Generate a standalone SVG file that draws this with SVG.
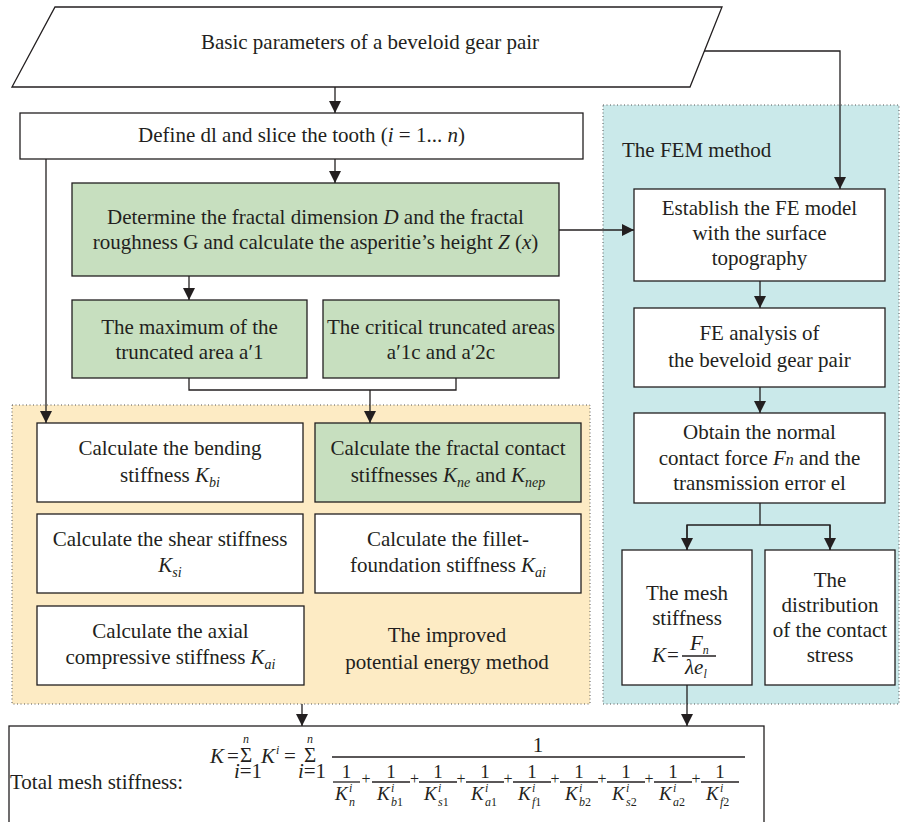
<svg xmlns="http://www.w3.org/2000/svg" width="901" height="822" viewBox="0 0 901 822">
<defs>
<marker id="ah" viewBox="0 0 12 12" refX="12" refY="6" markerWidth="12" markerHeight="12" markerUnits="userSpaceOnUse" orient="auto">
<path d="M0,0 L12,6 L0,12 z" fill="#231f20"/>
</marker>
</defs>
<style>
text{font-family:"Liberation Serif","Times New Roman",serif;font-size:21px;fill:#231f20}
.c{text-anchor:middle}
.i{font-style:italic}
.sub{font-style:italic;font-size:14px}
.box{fill:#fff;stroke:#231f20;stroke-width:1.3}
.g{fill:#c7dfbf;stroke:#231f20;stroke-width:1.3}
.ln{fill:none;stroke:#231f20;stroke-width:1.3}
.ar{fill:none;stroke:#231f20;stroke-width:1.3;marker-end:url(#ah)}
.reg{stroke:#555;stroke-width:1;stroke-dasharray:1 2.5}
.f{font-size:19px}
.s{font-size:12px;font-style:italic}
.pl{font-size:16px;text-anchor:middle}
</style>

<g id="regions">
<rect id="pem-region" x="12" y="405" width="578" height="299" fill="#fdebc4" class="reg"/>
<rect id="fem-region" x="603" y="105" width="296" height="599" fill="#cae9ea" class="reg"/>
</g>

<g id="n-basic">
<polygon points="55,7 722,7 690,87 12,87" class="box"/>
<text x="370" y="49" class="c">Basic parameters of a beveloid gear pair</text>
</g>

<g id="n-define">
<rect x="20" y="113" width="563" height="46" class="box"/>
<text x="301.5" y="142" class="c">Define dl and slice the tooth (<tspan class="i">i</tspan> = 1... <tspan class="i">n</tspan>)</text>
</g>

<g id="n-fractal">
<rect x="72" y="183" width="487" height="93" class="g"/>
<text x="315.5" y="224" class="c">Determine the fractal dimension <tspan class="i">D</tspan> and the fractal</text>
<text x="315.5" y="249" class="c">roughness G and calculate the asperitie’s height <tspan class="i">Z</tspan> (<tspan class="i">x</tspan>)</text>
</g>

<g id="n-max">
<rect x="72" y="300" width="235" height="78" class="g"/>
<text x="189.5" y="334" class="c">The maximum of the</text>
<text x="189.5" y="359" class="c">truncated area a′1</text>
</g>

<g id="n-critical">
<rect x="323" y="300" width="236" height="78" class="g"/>
<text x="441" y="334" class="c">The critical truncated areas</text>
<text x="441" y="359" class="c">a′1c and a′2c</text>
</g>

<g id="n-bending">
<rect x="37" y="423" width="266" height="79" class="box"/>
<text x="170" y="455" class="c">Calculate the bending</text>
<text x="170" y="482" class="c">stiffness <tspan class="i">K</tspan><tspan class="sub" dy="5">bi</tspan></text>
</g>

<g id="n-contact">
<rect x="315" y="423" width="266" height="79" class="g"/>
<text x="448" y="455" class="c">Calculate the fractal contact</text>
<text x="448" y="482" class="c">stiffnesses <tspan class="i">K</tspan><tspan class="sub" dy="5">ne</tspan><tspan dy="-5"> and </tspan><tspan class="i">K</tspan><tspan class="sub" dy="5">nep</tspan></text>
</g>

<g id="n-shear">
<rect x="37" y="514" width="266" height="79" class="box"/>
<text x="170" y="546" class="c">Calculate the shear stiffness</text>
<text x="170" y="572" class="c"><tspan class="i">K</tspan><tspan class="sub" dy="5">si</tspan></text>
</g>

<g id="n-fillet">
<rect x="315" y="514" width="266" height="79" class="box"/>
<text x="448" y="546" class="c">Calculate the fillet-</text>
<text x="448" y="572" class="c">foundation stiffness <tspan class="i">K</tspan><tspan class="sub" dy="5">ai</tspan></text>
</g>

<g id="n-axial">
<rect x="37" y="606" width="267" height="79" class="box"/>
<text x="170.5" y="638" class="c">Calculate the axial</text>
<text x="170.5" y="664" class="c">compressive stiffness <tspan class="i">K</tspan><tspan class="sub" dy="5">ai</tspan></text>
</g>

<g id="n-improved-label">
<text x="447" y="642" class="c">The improved</text>
<text x="447" y="669" class="c">potential energy method</text>
</g>

<g id="n-fem-label">
<text x="622" y="157">The FEM method</text>
</g>

<g id="n-establish">
<rect x="634" y="189" width="251" height="92" class="box"/>
<text x="759.5" y="215" class="c">Establish the FE model</text>
<text x="759.5" y="240" class="c">with the surface</text>
<text x="759.5" y="265" class="c">topography</text>
</g>

<g id="n-analysis">
<rect x="634" y="308" width="251" height="79" class="box"/>
<text x="759.5" y="340" class="c">FE analysis of</text>
<text x="759.5" y="367" class="c">the beveloid gear pair</text>
</g>

<g id="n-obtain">
<rect x="634" y="413" width="251" height="90" class="box"/>
<text x="759.5" y="439" class="c">Obtain the normal</text>
<text x="759.5" y="465" class="c">contact force <tspan class="i">F</tspan><tspan class="i" font-size="16">n</tspan> and the</text>
<text x="759.5" y="490" class="c">transmission error el</text>
</g>

<g id="n-mesh">
<rect x="622" y="550" width="130" height="135" class="box"/>
<text x="687" y="600" class="c">The mesh</text>
<text x="687" y="625" class="c">stiffness</text>
<text x="652" y="662" class="i" font-size="20">K</text>
<text x="667" y="662" font-size="20">=</text>
<text x="690" y="650" class="i" font-size="20">F<tspan class="s" font-size="13" dy="4">n</tspan></text>
<line x1="682" y1="656" x2="716" y2="656" class="ln"/>
<text x="685" y="674" class="i" font-size="20">λe<tspan class="s" font-size="13" dy="4">l</tspan></text>
</g>

<g id="n-distribution">
<rect x="765" y="550" width="130" height="135" class="box"/>
<text x="830" y="587" class="c">The</text>
<text x="830" y="612" class="c">distribution</text>
<text x="830" y="637" class="c">of the contact</text>
<text x="830" y="662" class="c">stress</text>
</g>

<g id="n-total">
<rect x="9" y="726" width="755" height="110" class="box"/>
<text x="10" y="789" font-size="22">Total mesh stiffness:</text>
<text x="210" y="763" class="i" font-size="20">K</text>
<text x="227" y="763" font-size="20">=</text>
<text x="246" y="762" class="c" font-size="17">Σ</text>
<text x="246" y="743" class="c s" font-size="13">n</text>
<text x="248" y="778" class="c" font-size="13"><tspan class="i">i</tspan>=1</text>
<text x="261" y="763" class="i" font-size="20">K</text>
<text x="276" y="754" class="s" font-size="13">i</text>
<text x="284" y="763" font-size="20">=</text>
<text x="310" y="762" class="c" font-size="17">Σ</text>
<text x="310" y="743" class="c s" font-size="13">n</text>
<text x="312" y="778" class="c" font-size="13"><tspan class="i">i</tspan>=1</text>
<line x1="332" y1="757" x2="745" y2="757" class="ln"/>
<text x="538" y="752" class="c" font-size="20">1</text>

<g id="terms">
<text x="346.5" y="778" class="c f">1</text><line x1="333" y1="782" x2="360" y2="782" class="ln"/>
<text x="335" y="800" class="i f">K</text><text x="349" y="792" class="s">i</text><text x="349" y="806" class="s">n</text>
<text x="366" y="784" class="pl">+</text>

<text x="391" y="778" class="c f">1</text><line x1="372" y1="782" x2="410" y2="782" class="ln"/>
<text x="377" y="800" class="i f">K</text><text x="391" y="792" class="s">i</text><text x="391" y="806" class="s">b<tspan font-style="normal">1</tspan></text>
<text x="414.5" y="784" class="pl">+</text>

<text x="438" y="778" class="c f">1</text><line x1="419" y1="782" x2="457" y2="782" class="ln"/>
<text x="424" y="800" class="i f">K</text><text x="438" y="792" class="s">i</text><text x="438" y="806" class="s">s<tspan font-style="normal">1</tspan></text>
<text x="461" y="784" class="pl">+</text>

<text x="485" y="778" class="c f">1</text><line x1="466" y1="782" x2="504" y2="782" class="ln"/>
<text x="471" y="800" class="i f">K</text><text x="485" y="792" class="s">i</text><text x="485" y="806" class="s">a<tspan font-style="normal">1</tspan></text>
<text x="508" y="784" class="pl">+</text>

<text x="532" y="778" class="c f">1</text><line x1="513" y1="782" x2="551" y2="782" class="ln"/>
<text x="518" y="800" class="i f">K</text><text x="532" y="792" class="s">i</text><text x="532" y="806" class="s">f<tspan font-style="normal">1</tspan></text>
<text x="555" y="784" class="pl">+</text>

<text x="579" y="778" class="c f">1</text><line x1="560" y1="782" x2="598" y2="782" class="ln"/>
<text x="565" y="800" class="i f">K</text><text x="579" y="792" class="s">i</text><text x="579" y="806" class="s">b<tspan font-style="normal">2</tspan></text>
<text x="602" y="784" class="pl">+</text>

<text x="626" y="778" class="c f">1</text><line x1="607" y1="782" x2="645" y2="782" class="ln"/>
<text x="612" y="800" class="i f">K</text><text x="626" y="792" class="s">i</text><text x="626" y="806" class="s">s<tspan font-style="normal">2</tspan></text>
<text x="649" y="784" class="pl">+</text>

<text x="673" y="778" class="c f">1</text><line x1="654" y1="782" x2="692" y2="782" class="ln"/>
<text x="659" y="800" class="i f">K</text><text x="673" y="792" class="s">i</text><text x="673" y="806" class="s">a<tspan font-style="normal">2</tspan></text>
<text x="696" y="784" class="pl">+</text>

<text x="720" y="778" class="c f">1</text><line x1="701" y1="782" x2="739" y2="782" class="ln"/>
<text x="706" y="800" class="i f">K</text><text x="720" y="792" class="s">i</text><text x="720" y="806" class="s">f<tspan font-style="normal">2</tspan></text>
</g>
</g>

<g id="connectors">
<line x1="335" y1="87" x2="335" y2="113" class="ar"/>
<polyline points="704,51 840,51 840,189" class="ar"/>
<line x1="335" y1="159" x2="335" y2="183" class="ar"/>
<line x1="559" y1="230" x2="634" y2="230" class="ar"/>
<line x1="189" y1="276" x2="189" y2="300" class="ar"/>
<polyline points="189,378 189,390 456,390 456,378" class="ln"/>
<line x1="370" y1="390" x2="370" y2="423" class="ar"/>
<line x1="46" y1="159" x2="46" y2="423" class="ar"/>
<line x1="760" y1="281" x2="760" y2="308" class="ar"/>
<line x1="760" y1="387" x2="760" y2="413" class="ar"/>
<line x1="760" y1="503" x2="760" y2="525" class="ln"/>
<polyline points="687,550 687,525 830,525 830,550" class="ln"/>
<line x1="687" y1="525" x2="687" y2="550" class="ar"/>
<line x1="830" y1="525" x2="830" y2="550" class="ar"/>
<line x1="302" y1="704" x2="302" y2="726" class="ar"/>
<line x1="687" y1="685" x2="687" y2="726" class="ar"/>
</g>
</svg>
